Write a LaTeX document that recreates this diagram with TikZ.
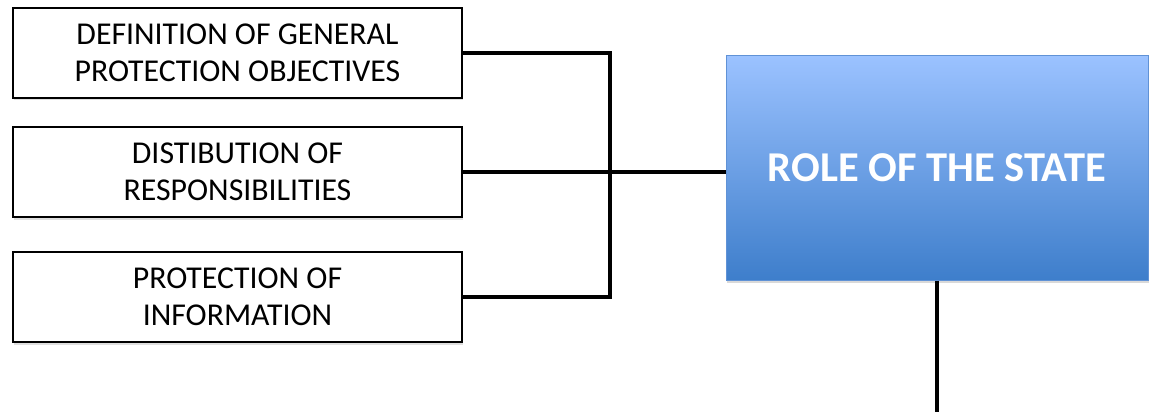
\documentclass[tikz,border=0pt]{standalone}
\usepackage{fontspec}
\setmainfont{Carlito}
\usetikzlibrary{shadows}
\definecolor{statetop}{RGB}{155,194,255}
\definecolor{statebot}{RGB}{62,126,203}
\definecolor{stateedge}{RGB}{96,146,214}
\begin{document}
\begin{tikzpicture}[x=1pt,y=-1pt,
    task/.style={draw, line width=1.5pt, fill=white, minimum width=449pt, minimum height=90pt,
      align=center, font=\fontsize{31.8}{37}\selectfont,
      drop shadow={shadow xshift=1pt, shadow yshift=-2.5pt, opacity=0.25}},
    state/.style={draw=stateedge, line width=1pt, top color=statetop, bottom color=statebot,
      minimum width=422pt, minimum height=224pt, text=white, font=\fontsize{42.5}{50}\selectfont\bfseries,
      drop shadow={shadow xshift=1pt, shadow yshift=-2.5pt, opacity=0.3}},
    link/.style={line width=4.5pt}]
    \useasboundingbox (0,0) rectangle (1152,412);

    \node[task] (0) at (237.5,53) {DEFINITION OF GENERAL\\PROTECTION OBJECTIVES};
    \node[task] (1) at (237.5,172) {DISTIBUTION OF\\RESPONSIBILITIES};
    \node[task] (2) at (237.5,297) {PROTECTION OF\\INFORMATION};
    \node[state] (3) at (937,168) {ROLE OF THE STATE};

    \coordinate (4) at (610,53); % coin du crochet
    \coordinate (5) at (937,412);

    \draw[link] (0.east) -- (4) |- (2.east);
    \draw[link] (1.east) -- (1.east -| 3.west);
    \draw[link] (3.south) -- (5);
  \end{tikzpicture}
\end{document}
